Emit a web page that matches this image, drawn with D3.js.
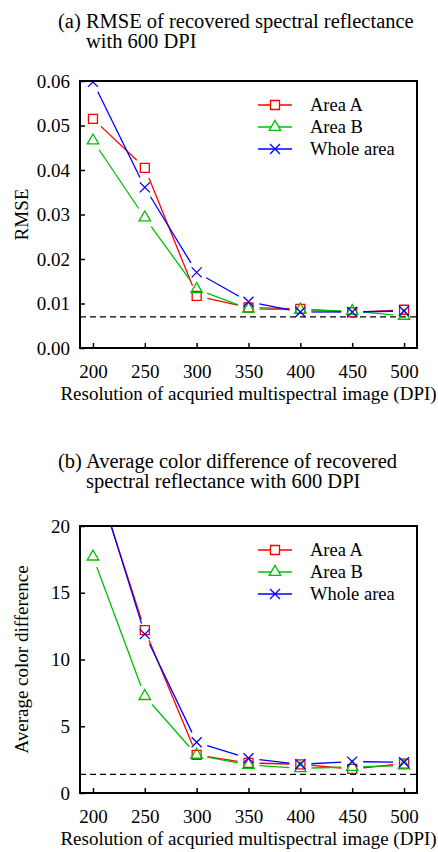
<!DOCTYPE html>
<html>
<head>
<meta charset="utf-8">
<script src="https://cdn.jsdelivr.net/npm/d3@7"></script>
<style>
body { margin: 0; background: #fff; }
svg text { font-family: "Liberation Serif", Tinos, "DejaVu Serif", serif; fill: #000; }
</style>
</head>
<body>
<svg id="chart" width="438" height="852"></svg>
<script>
// values
var resolutions = [200, 250, 300, 350, 400, 450, 500];
var seriesNames = ['Area A', 'Area B', 'Whole area'];

var rmseAreaA = [0.0515, 0.0405, 0.0117, 0.0091, 0.0088, 0.0080, 0.0086];
var rmseAreaB = [0.0466, 0.0293, 0.0132, 0.0088, 0.0086, 0.0083, 0.0072];
var rmseWhole = [0.0598, 0.0361, 0.0170, 0.0104, 0.0081, 0.0081, 0.0083];
var rmseRef = 0.007;
var rmseTicks = [0, 0.01, 0.02, 0.03, 0.04, 0.05, 0.06];

var deAreaA = [24.2, 12.2, 2.85, 2.25, 2.15, 1.8, 2.2];
var deAreaB = [17.7, 7.25, 2.85, 2.1, 1.85, 1.95, 2.05];
var deWhole = [24.4, 11.9, 3.8, 2.6, 2.15, 2.35, 2.3];
var deRef = 1.4;
var deTicks = [0, 5, 10, 15, 20];

var colors = ['#ff0000', '#00c000', '#0000ff'];
var symbols = [d3.symbolSquare, d3.symbolTriangle, d3.symbolTimes];
var symSizes = [81, 57, 67];

var LEFT = 80, RIGHT = 417;
var GAP = 11;
var FONT = '"Liberation Serif", Tinos, "DejaVu Serif", serif';

var svg = d3.select('#chart');

// segments between points, shortened near the markers (gnuplot style)
function gapSegments(pts, gap) {
  var segs = [];
  for (var i = 0; i < pts.length - 1; i++) {
    var a = pts[i], b = pts[i + 1];
    var dx = b[0] - a[0], dy = b[1] - a[1];
    var len = Math.hypot(dx, dy);
    if (len <= 2 * gap) continue;
    var ux = dx / len, uy = dy / len;
    segs.push([a[0] + ux * gap, a[1] + uy * gap, b[0] - ux * gap, b[1] - uy * gap]);
  }
  return segs;
}

function drawPanel(id, top, bottom, yMax, yTicks, yFmt, data, ref, titleLines, titleY, yLabel) {
  var g = svg.append('g').attr('id', id).attr('font-family', FONT);

  var x = d3.scaleLinear().domain([187.5, 512.5]).range([LEFT, RIGHT]);
  var y = d3.scaleLinear().domain([0, yMax]).range([bottom, top]);

  // title
  titleLines.forEach(function(t, i) {
    g.append('text')
      .attr('x', i == 0 ? 58 : 86)
      .attr('y', titleY + i * 20)
      .style('font-size', '20.5px')
      .text(t);
  });

  g.append('clipPath').attr('id', id + '-clip')
    .append('rect')
    .attr('x', LEFT).attr('y', top)
    .attr('width', RIGHT - LEFT).attr('height', bottom - top);

  // axes
  var leftAxis = d3.axisLeft(y).tickValues(yTicks).tickFormat(yFmt)
    .tickSizeInner(-5).tickSizeOuter(0).tickPadding(10);
  var ag = g.append('g').attr('transform', 'translate(' + LEFT + ',0)').call(leftAxis);
  var bottomAxis = d3.axisBottom(x).tickValues(resolutions).tickFormat(d3.format('d'))
    .tickSizeInner(-5).tickSizeOuter(0).tickPadding(16.5);
  var bg = g.append('g').attr('transform', 'translate(0,' + bottom + ')').call(bottomAxis);
  [ag, bg].forEach(function(a) {
    a.attr('font-family', FONT).attr('font-size', 19);
    a.select('.domain').remove();
    a.selectAll('line').attr('stroke', '#000').attr('stroke-width', 1.5);
    a.selectAll('text').style('font-size', '19px').style('font-family', FONT);
  });

  // reference dashed line
  g.append('line')
    .attr('x1', LEFT).attr('x2', RIGHT)
    .attr('y1', y(ref)).attr('y2', y(ref))
    .attr('stroke', '#000').attr('stroke-width', 1.3)
    .attr('stroke-dasharray', '6,4');

  var plot = g.append('g').attr('clip-path', 'url(#' + id + '-clip)');
  data.forEach(function(vals, s) {
    var pts = vals.map(function(v, i) { return [x(resolutions[i]), y(v)]; });
    plot.selectAll('line.s' + s)
      .data(gapSegments(pts, GAP))
      .enter().append('line')
      .attr('class', 's' + s)
      .attr('x1', function(d) { return d[0]; })
      .attr('y1', function(d) { return d[1]; })
      .attr('x2', function(d) { return d[2]; })
      .attr('y2', function(d) { return d[3]; })
      .attr('stroke', colors[s]).attr('stroke-width', 1.3);
    plot.selectAll('path.m' + s)
      .data(pts)
      .enter().append('path')
      .attr('class', 'm' + s)
      .attr('d', d3.symbol().type(symbols[s]).size(symSizes[s]))
      .attr('transform', function(d) { return 'translate(' + d[0] + ',' + d[1] + ')'; })
      .attr('fill', 'none').attr('stroke', colors[s]).attr('stroke-width', 1.3);
  });

  // frame
  g.append('rect')
    .attr('x', LEFT).attr('y', top)
    .attr('width', RIGHT - LEFT).attr('height', bottom - top)
    .attr('fill', 'none').attr('stroke', '#000').attr('stroke-width', 2);

  // legend
  seriesNames.forEach(function(name, s) {
    var ly = top + 24 + s * 22;
    g.append('line')
      .attr('x1', 258).attr('x2', 292).attr('y1', ly).attr('y2', ly)
      .attr('stroke', colors[s]).attr('stroke-width', 1.3);
    g.append('path')
      .attr('d', d3.symbol().type(symbols[s]).size(symSizes[s]))
      .attr('transform', 'translate(275,' + ly + ')')
      .attr('fill', '#fff').attr('stroke', colors[s]).attr('stroke-width', 1.3);
    g.append('text')
      .attr('x', 310).attr('y', ly + 6)
      .style('font-size', '18.5px')
      .text(name);
  });

  // axis labels
  g.append('text')
    .attr('transform', 'translate(28,' + ((top + bottom) / 2) + ') rotate(-90)')
    .attr('text-anchor', 'middle')
    .style('font-size', '19px')
    .text(yLabel);
  g.append('text')
    .attr('x', (LEFT + RIGHT) / 2).attr('y', bottom + 52)
    .attr('text-anchor', 'middle')
    .style('font-size', '19px')
    .text('Resolution of acquried multispectral image (DPI)');
}

drawPanel('rmse', 81, 348, 0.06, rmseTicks, d3.format('.2f'),
  [rmseAreaA, rmseAreaB, rmseWhole], rmseRef,
  ['(a) RMSE of recovered spectral reflectance', 'with 600 DPI'], 28, 'RMSE');

drawPanel('de', 526, 793, 20, deTicks, d3.format('d'),
  [deAreaA, deAreaB, deWhole], deRef,
  ['(b) Average color difference of recovered', 'spectral reflectance with 600 DPI'], 468,
  'Average color difference');
</script>
</body>
</html>
